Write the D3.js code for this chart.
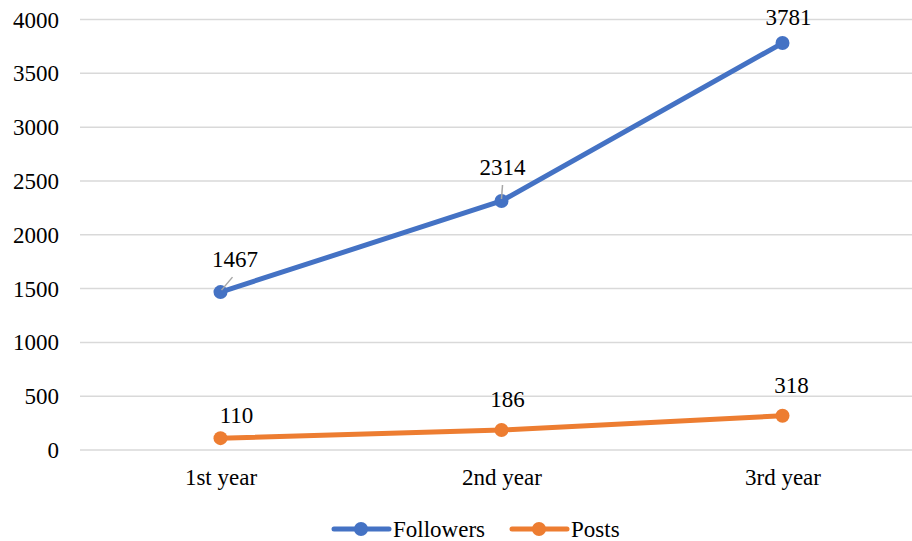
<!DOCTYPE html>
<html>
<head>
<meta charset="utf-8">
<script src="https://cdn.jsdelivr.net/npm/d3@7"></script>
<style>
  html, body { margin: 0; padding: 0; background: #fff; }
</style>
</head>
<body>
<svg id="chart" width="912" height="541"></svg>
<script>
const categories = ["1st year", "2nd year", "3rd year"];
const followers = [1467, 2314, 3781];
const posts = [110, 186, 318];
const yTicks = [0, 500, 1000, 1500, 2000, 2500, 3000, 3500, 4000];
const seriesNames = ["Followers", "Posts"];
const seriesColors = ["#4472C4", "#ED7D31"];

const FONT = "'Liberation Serif', 'Times New Roman', serif";
const FS = "23px";

const svg = d3.select("#chart").style("font-family", FONT);
const plot = { left: 80, right: 923, top: 19.5, bottom: 450 };

const x = d3.scalePoint().domain(categories).range([plot.left, plot.right]).padding(0.5);
const y = d3.scaleLinear().domain([0, 4000]).range([plot.bottom, plot.top]);

// Horizontal gridlines
svg.append("g")
  .selectAll("line")
  .data(yTicks)
  .join("line")
  .attr("x1", plot.left)
  .attr("x2", 912)
  .attr("y1", d => y(d))
  .attr("y2", d => y(d))
  .attr("stroke", "#d9d9d9")
  .attr("stroke-width", 1.5);

// Y axis labels
const yAxis = d3.axisLeft(y).tickValues(yTicks).tickFormat(d3.format("d")).tickSize(0).tickPadding(0);
const yg = svg.append("g").attr("transform", "translate(59,0)").call(yAxis)
  .attr("font-family", null).attr("font-size", null);
yg.select(".domain").remove();
yg.selectAll("text")
  .style("font-family", FONT)
  .style("font-size", FS)
  .attr("fill", "#000")
  .attr("dy", "0.33em");

// X axis labels
const xAxis = d3.axisBottom(x).tickSize(0).tickPadding(0);
const xg = svg.append("g").attr("transform", `translate(0,${plot.bottom + 35})`).call(xAxis)
  .attr("font-family", null).attr("font-size", null);
xg.select(".domain").remove();
xg.selectAll("text")
  .style("font-family", FONT)
  .style("font-size", FS)
  .attr("fill", "#000")
  .attr("y", 0)
  .attr("dy", 0);

const series = [followers, posts];
const line = d3.line().x((d, i) => x(categories[i])).y(d => y(d));

series.forEach((vals, s) => {
  svg.append("path")
    .datum(vals)
    .attr("d", line)
    .attr("fill", "none")
    .attr("stroke", seriesColors[s])
    .attr("stroke-width", 5)
    .attr("stroke-linecap", "round")
    .attr("stroke-linejoin", "round");
  svg.append("g")
    .selectAll("circle")
    .data(vals)
    .join("circle")
    .attr("cx", (d, i) => x(categories[i]))
    .attr("cy", d => y(d))
    .attr("r", 7)
    .attr("fill", seriesColors[s]);
});

// Data labels, placed relative to each point; some followers labels have leader lines
const followerLabelOffsets = [[14.5, -25], [1, -26], [6, -18]];
const followerLeaders = [[1, -2, 12, -15], [0, -2, 1, -16], null];
const postLabelOffsets = [[16, -15], [6, -23], [9, -23]];

followers.forEach((v, i) => {
  const px = x(categories[i]), py = y(v);
  const [dx, dy] = followerLabelOffsets[i];
  const ld = followerLeaders[i];
  if (ld) {
    svg.append("line")
      .attr("x1", px + ld[0]).attr("y1", py + ld[1])
      .attr("x2", px + ld[2]).attr("y2", py + ld[3])
      .attr("stroke", "#a6a6a6").attr("stroke-width", 1.5);
  }
  svg.append("text")
    .attr("x", px + dx)
    .attr("y", py + dy)
    .attr("text-anchor", "middle")
    .style("font-family", FONT)
    .style("font-size", FS)
    .text(v);
});

posts.forEach((v, i) => {
  const px = x(categories[i]), py = y(v);
  const [dx, dy] = postLabelOffsets[i];
  svg.append("text")
    .attr("x", px + dx)
    .attr("y", py + dy)
    .attr("text-anchor", "middle")
    .style("font-family", FONT)
    .style("font-size", FS)
    .text(v);
});

// Legend
const legendItems = [
  { name: seriesNames[0], color: seriesColors[0], x: 334 },
  { name: seriesNames[1], color: seriesColors[1], x: 512 }
];
const lg = svg.append("g").attr("transform", "translate(0,529)");
legendItems.forEach(it => {
  lg.append("line")
    .attr("x1", it.x).attr("x2", it.x + 55)
    .attr("y1", 0).attr("y2", 0)
    .attr("stroke", it.color).attr("stroke-width", 5)
    .attr("stroke-linecap", "round");
  lg.append("circle")
    .attr("cx", it.x + 27).attr("cy", 0).attr("r", 7)
    .attr("fill", it.color);
  lg.append("text")
    .attr("x", it.x + 59).attr("y", 8)
    .style("font-family", FONT)
    .style("font-size", FS)
    .text(it.name);
});
</script>
</body>
</html>
